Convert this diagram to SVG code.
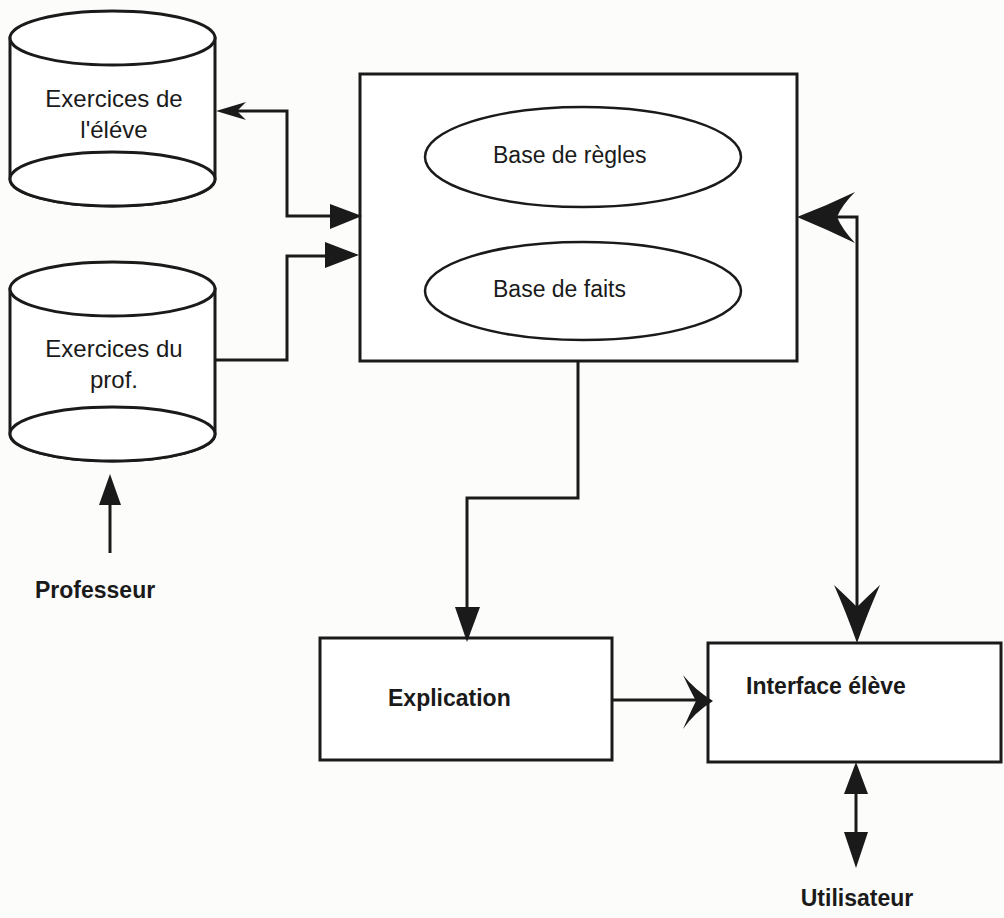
<svg xmlns="http://www.w3.org/2000/svg" width="1004" height="918" viewBox="0 0 1004 918">
  <style>
    .shape { fill: #ffffff; stroke: #1a1a1a; stroke-width: 3; }
    .oval { fill: none; stroke: #1a1a1a; stroke-width: 2.5; }
    .wire { fill: none; stroke: #1a1a1a; stroke-width: 3; stroke-linejoin: miter; }
    .head { fill: #1a1a1a; stroke: none; }
    .lbl { font-family: "Liberation Sans", Arial, sans-serif; font-size: 23px; fill: #1a1a1a; }
    .store { font-size: 24px; }
    .bold { font-weight: bold; }
    .mid { text-anchor: middle; }
  </style>

  <rect x="0" y="0" width="1004" height="918" fill="#fcfcfa"/>

  <!-- Student exercises store -->
  <g id="exercices-eleve">
    <path class="shape" d="M10,38 L10,179 A102.5,27 0 0 0 215,179 L215,38 Z"/>
    <ellipse class="shape" cx="112.5" cy="38" rx="102.5" ry="27"/>
    <ellipse class="shape" cx="112.5" cy="179" rx="102.5" ry="27"/>
    <text class="lbl store mid" x="114" y="107">Exercices de</text>
    <text class="lbl store mid" x="114" y="138">l'éléve</text>
  </g>

  <!-- Teacher exercises store -->
  <g id="exercices-prof">
    <path class="shape" d="M10,289 L10,434 A102.5,27 0 0 0 215,434 L215,289 Z"/>
    <ellipse class="shape" cx="112.5" cy="289" rx="102.5" ry="27"/>
    <ellipse class="shape" cx="112.5" cy="434" rx="102.5" ry="27"/>
    <text class="lbl store mid" x="114" y="357">Exercices du</text>
    <text class="lbl store mid" x="114" y="388">prof.</text>
  </g>

  <!-- Expert system: rules and facts -->
  <g id="systeme-expert">
    <rect class="shape" x="360" y="74" width="437" height="287"/>
    <ellipse class="oval" cx="583" cy="157" rx="158" ry="50"/>
    <text class="lbl" x="493" y="163">Base de règles</text>
    <ellipse class="oval" cx="583" cy="291" rx="158" ry="49"/>
    <text class="lbl" x="493" y="297">Base de faits</text>
  </g>

  <g id="explication">
    <rect class="shape" x="320" y="638" width="292" height="122"/>
    <text class="lbl bold" x="388" y="706">Explication</text>
  </g>

  <g id="interface-eleve">
    <rect class="shape" x="708" y="643" width="293" height="119"/>
    <text class="lbl bold" x="746" y="694">Interface élève</text>
  </g>

  <g id="professeur">
    <text class="lbl bold" x="35" y="598">Professeur</text>
  </g>

  <g id="utilisateur">
    <text class="lbl bold mid" x="857" y="906">Utilisateur</text>
  </g>

  <!-- Connectors -->
  <g id="connectors">
    <!-- student exercises <-> expert system -->
    <path class="wire" d="M236,111 L287,111 L287,216 L332,216"/>
    <path class="head" d="M216,111 L246,102 L237,111 L246,120 Z"/>
    <path class="head" d="M362,216 L330,204 L330,229 Z"/>

    <!-- teacher exercises -> expert system -->
    <path class="wire" d="M215,360 L287,360 L287,256 L327,256"/>
    <path class="head" d="M359,255 L325,242 L325,268 Z"/>

    <!-- expert system -> explication -->
    <path class="wire" d="M578,361 L578,498 L467,498 L467,610"/>
    <path class="head" d="M467,642 L455,607 L480,607 Z"/>

    <!-- explication -> interface -->
    <path class="wire" d="M612,700 L698,700"/>
    <path class="head" d="M713,701 Q695,690 683,675 Q690,690 696,701 Q690,713 683,729 Q695,712 713,701 Z"/>

    <!-- expert system <-> interface -->
    <path class="wire" d="M836,217 L857,217 L857,608"/>
    <path class="head" d="M797,217 Q826,206 855,192 Q842,205 837,217 Q842,229 855,243 Q826,229 797,217 Z"/>
    <path class="head" d="M857,643 Q846,612 834,585 Q847,597 857,607 Q867,597 880,585 Q868,612 857,643 Z"/>

    <!-- interface <-> user -->
    <path class="wire" d="M856,790 L856,836"/>
    <path class="head" d="M856,762 L844,794 L868,794 Z"/>
    <path class="head" d="M856,868 L844,832 L868,832 Z"/>

    <!-- teacher -> teacher exercises -->
    <path class="wire" d="M110,553 L110,502"/>
    <path class="head" d="M110,474 L99,505 L121,505 Z"/>
  </g>
</svg>
